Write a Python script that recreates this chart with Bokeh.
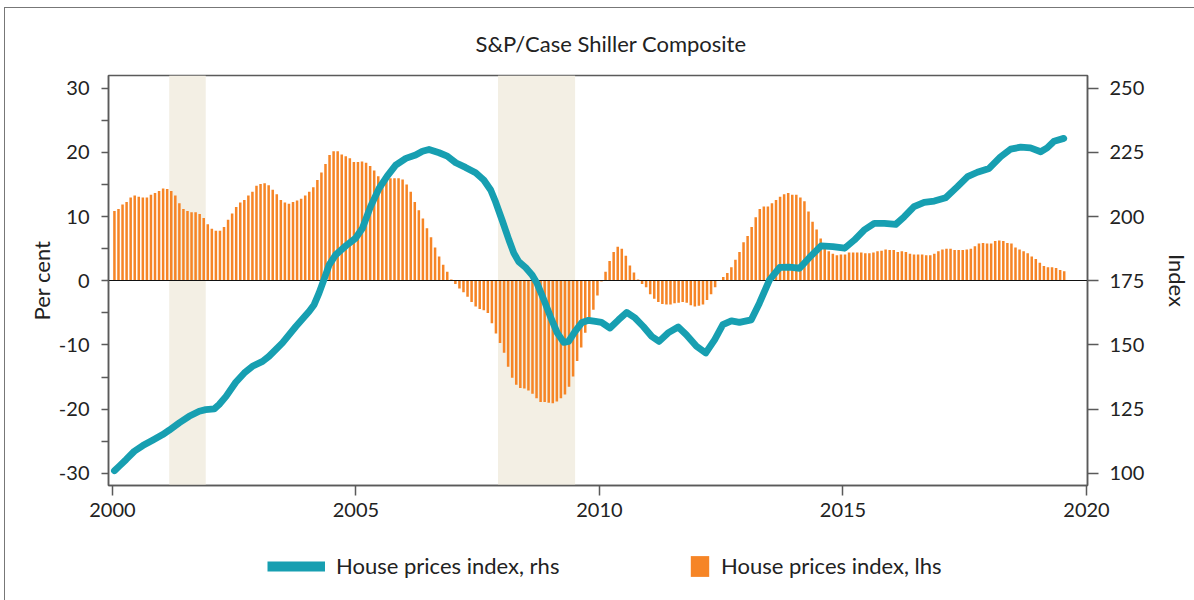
from bokeh.plotting import figure
from bokeh.layouts import column
from bokeh.models import (Range1d, LinearAxis, FixedTicker, BoxAnnotation,
                          Legend, LegendItem)
from bokeh.embed import file_html
from bokeh.resources import INLINE

FONT = "Lato"
TEAL = "#179FB1"
ORANGE = "#F68526"
SHADE = "#F3EFE4"
TXT = "#222222"
AXC = "#5A5A5A"

title_text = "S&P/Case Shiller Composite"
left_label = "Per cent"
right_label = "Index"
line_name = "House prices index, rhs"
bar_name = "House prices index, lhs"

start_year = 2000
# Year-on-year change, per cent (monthly, Jan 2000 - Jul 2019)
yoy_2000 = [10.9, 11.2, 11.9, 12.3, 13.0, 13.3, 13.1, 13.0, 13.0, 13.4, 13.7, 14.0]
yoy_2001 = [14.4, 14.3, 14.0, 13.3, 12.1, 11.2, 10.9, 10.7, 10.7, 10.4, 9.8, 8.8]
yoy_2002 = [8.1, 7.8, 7.8, 8.4, 9.5, 10.5, 11.5, 12.2, 12.6, 13.3, 13.9, 14.8]
yoy_2003 = [15.1, 15.2, 14.9, 14.2, 13.5, 12.6, 12.2, 12.0, 12.3, 12.5, 12.8, 13.3]
yoy_2004 = [13.9, 14.6, 15.7, 16.9, 18.2, 19.6, 20.2, 20.2, 19.7, 19.4, 19.1, 18.5]
yoy_2005 = [18.5, 18.6, 18.4, 17.9, 17.2, 16.3, 15.7, 16.0, 16.0, 16.0, 16.0, 15.8]
yoy_2006 = [15.0, 13.9, 12.3, 11.0, 9.7, 8.2, 6.8, 5.2, 3.8, 2.5, 1.4, 0.2]
yoy_2007 = [-0.5, -1.2, -1.8, -2.5, -3.3, -4.0, -4.4, -4.6, -5.0, -6.6, -8.2, -9.7]
yoy_2008 = [-11.2, -13.4, -15.1, -16.2, -16.7, -16.8, -17.1, -17.6, -18.3, -18.9, -18.9, -19.0]
yoy_2009 = [-19.1, -18.8, -18.3, -17.7, -16.5, -14.9, -12.5, -10.4, -8.1, -5.9, -4.5, -2.3]
yoy_2010 = [-0.1, 1.4, 3.1, 4.5, 5.3, 5.0, 3.9, 2.4, 1.3, 0.2, -0.5, -1.0]
yoy_2011 = [-2.1, -2.8, -3.3, -3.6, -3.7, -3.7, -3.5, -3.4, -3.3, -3.4, -3.8, -4.0]
yoy_2012 = [-3.9, -3.7, -3.0, -2.1, -1.0, 0.0, 0.6, 1.2, 2.1, 3.3, 4.5, 6.0]
yoy_2013 = [7.0, 8.4, 9.9, 11.2, 11.6, 11.6, 12.1, 12.6, 13.1, 13.5, 13.7, 13.4]
yoy_2014 = [13.4, 13.0, 12.4, 10.8, 9.2, 8.0, 6.6, 5.0, 4.6, 4.2, 4.0, 4.1]
yoy_2015 = [4.1, 4.4, 4.4, 4.4, 4.4, 4.3, 4.3, 4.4, 4.6, 4.7, 4.9, 4.8]
yoy_2016 = [4.8, 4.5, 4.6, 4.5, 4.2, 4.1, 4.1, 4.1, 4.0, 4.0, 4.2, 4.6]
yoy_2017 = [4.9, 5.0, 5.0, 4.8, 4.8, 4.8, 4.9, 5.0, 5.4, 5.8, 5.9, 5.8]
yoy_2018 = [5.8, 6.2, 6.3, 6.2, 5.9, 5.8, 5.2, 4.9, 4.6, 4.3, 3.8, 3.4]
yoy_2019 = [2.8, 2.3, 2.1, 2.1, 2.0, 1.7, 1.5]

# Index level (rhs): months since Jan 2000, value
index_month = [0, 1.2, 2.9, 4.9, 7, 9.4, 11.9, 13.5, 16, 18.4, 20.9, 22.5, 24.6,
               25.8, 27.5, 29.9, 32, 34, 36.5, 38.1, 41.4, 44.7, 48, 49.2, 50.4,
               51.6, 52.9, 54.5, 57, 59.4, 61.1, 63.1, 65.2, 67.2, 69.3, 71.8,
               74.2, 75.9, 77.5, 80, 82, 84.1, 86.5, 89, 91, 92.7, 93.9, 95.5,
               97.2, 98.4, 99.6, 101.3, 102.9, 104.1, 105.8, 107.4, 109.1, 110.7,
               111.9, 113.5, 115.2, 116.8, 118.5, 120, 122.1, 124.2, 126.2, 128.3,
               130.3, 132.4, 134.2, 136.4, 138.9, 140.9, 143.4, 145.7, 147.9,
               149.9, 152, 154, 156.9, 158.9, 161.4, 163.9, 166.3, 168.8, 171.3,
               174.1, 177, 179.9, 182.3, 184.7, 187.2, 189.7, 192.5, 194.6, 197,
               199.5, 202, 204.8, 207.7, 210.2, 212.6, 215.5, 218.3, 220.8, 223.3,
               225.7, 228.2, 229.8, 231.5, 233.9]
index_value = [101.0, 102.8, 105.4, 108.6, 110.8, 112.9, 115.1, 116.8, 119.7,
               122.2, 124.2, 124.8, 125.1, 126.8, 130.0, 135.5, 139.1, 141.7,
               143.6, 145.6, 150.8, 157.2, 163.1, 165.7, 170.2, 175.4, 181.2,
               185.1, 188.6, 191.6, 195.5, 203.9, 211.0, 215.8, 220.1, 222.7,
               224.0, 225.5, 226.2, 224.9, 223.6, 221.0, 219.2, 217.1, 214.3,
               210.4, 205.8, 198.7, 190.9, 185.8, 182.5, 180.2, 177.3, 174.1,
               167.6, 161.1, 154.7, 151.0, 151.4, 155.3, 158.8, 159.6, 159.2,
               158.8, 156.6, 159.8, 162.7, 160.5, 157.2, 153.3, 151.4, 154.7,
               157.0, 154.0, 149.5, 146.9, 152.1, 157.9, 159.4, 158.8, 159.8,
               166.3, 175.4, 180.2, 180.3, 179.9, 184.2, 188.6, 188.3, 187.7,
               190.9, 194.8, 197.4, 197.4, 197.0, 200.0, 203.9, 205.6, 206.1,
               207.4, 211.7, 215.6, 217.3, 218.8, 223.3, 226.3, 227.1, 226.8,
               225.3, 226.8, 229.4, 230.5]

# US recessions (decimal years)
recession_start = [2001 + 2 / 12, 2007 + 11 / 12]
recession_end = [2001 + 11 / 12, 2009 + 6 / 12]

x_ticks = [2000, 2005, 2010, 2015, 2020]
left_ticks = [-30, -20, -10, 0, 10, 20, 30]
left_minor = [-25, -15, -5, 5, 15, 25]
right_ticks = [100, 125, 150, 175, 200, 225, 250]

yoy = (yoy_2000 + yoy_2001 + yoy_2002 + yoy_2003 + yoy_2004 + yoy_2005 +
       yoy_2006 + yoy_2007 + yoy_2008 + yoy_2009 + yoy_2010 + yoy_2011 +
       yoy_2012 + yoy_2013 + yoy_2014 + yoy_2015 + yoy_2016 + yoy_2017 +
       yoy_2018 + yoy_2019)
bar_x = [start_year + (m + 0.5) / 12 for m in range(len(yoy))]
line_x = [start_year + (m + 0.5) / 12 for m in index_month]

W = 1189
p = figure(width=W, height=537, output_backend="svg", toolbar_location=None,
           x_range=Range1d(1999.92, 2020.02), y_range=Range1d(-31.9, 32.0),
           min_border_left=103, min_border_right=105, min_border_top=67,
           min_border_bottom=60, title=title_text)
p.extra_y_ranges = {"idx": Range1d(175 + 2.5 * -31.9, 175 + 2.5 * 32.0)}

p.background_fill_color = "white"
p.border_fill_color = "white"
p.outline_line_color = AXC
p.outline_line_width = 1.5
p.xgrid.visible = False
p.ygrid.visible = False

p.title.text_font = FONT
p.title.text_font_size = "22px"
p.title.text_font_style = "normal"
p.title.text_color = TXT
p.title.align = "left"
p.title.offset = 367
p.title.standoff = 38

for s, e in zip(recession_start, recession_end):
    p.add_layout(BoxAnnotation(left=s, right=e, fill_color=SHADE, fill_alpha=1,
                               line_color=None, level="underlay"))

p.vbar(x=bar_x, top=yoy, bottom=0, width=0.62 / 12,
       fill_color=ORANGE, line_color=None)
p.hspan(y=[0], line_color="#111111", line_width=1.2)
p.line(x=line_x, y=index_value, y_range_name="idx", line_width=6.8,
       line_color=TEAL, line_join="round", line_cap="round")

# axes
xa = p.xaxis[0]
xa.ticker = FixedTicker(ticks=x_ticks)
ya = p.yaxis[0]
ya.ticker = FixedTicker(ticks=left_ticks, minor_ticks=left_minor)
ya.major_label_overrides = {t: str(t) for t in left_ticks}
ya.axis_label = left_label
ra = LinearAxis(y_range_name="idx", ticker=FixedTicker(ticks=right_ticks),
                axis_label=right_label)
p.add_layout(ra, "right")

for ax in (xa, ya, ra):
    ax.axis_line_color = AXC
    ax.axis_line_width = 1.5
    ax.major_tick_line_color = AXC
    ax.major_tick_line_width = 1.5
    ax.minor_tick_line_color = None
    ax.major_tick_in = 0
    ax.major_label_text_font = FONT
    ax.major_label_text_font_size = "20px"
    ax.major_label_text_color = TXT
    ax.axis_label_text_font = FONT
    ax.axis_label_text_font_size = "22px"
    ax.axis_label_text_font_style = "normal"
    ax.axis_label_text_color = TXT

xa.major_tick_out = 10
xa.major_label_standoff = 7
ya.major_tick_out = 7
ya.minor_tick_line_color = AXC
ya.minor_tick_line_width = 1.5
ya.minor_tick_in = 0
ya.minor_tick_out = 7
ya.major_label_standoff = 12
ya.axis_label_standoff = 1
ra.major_tick_out = 11
ra.major_label_standoff = 11
ra.axis_label_standoff = 17

# legend strip under the chart (its frame is aligned with the chart's frame)
lf = figure(width=W, height=55, output_backend="svg", toolbar_location=None,
            x_range=Range1d(0, 1), y_range=Range1d(0, 1),
            x_axis_type=None, y_axis_type=None,
            min_border_left=0, min_border_right=0, min_border_top=0,
            min_border_bottom=0)
lf.outline_line_color = None
lf.background_fill_color = "white"
lf.border_fill_color = "white"
nan = float("nan")
key_line = lf.line(x=[nan], y=[nan], line_width=10, line_color=TEAL)
key_bar = lf.vbar(x=[nan], top=[nan], width=0.1, fill_color=ORANGE,
                  line_color=None)

leg_common = dict(orientation="horizontal", padding=0, margin=0,
                  border_line_color=None, background_fill_alpha=0,
                  label_text_font=FONT, label_text_font_size="22px",
                  label_text_color=TXT)
leg1 = Legend(items=[LegendItem(label=line_name, renderers=[key_line])],
              location=(159, 21), glyph_width=58, glyph_height=26,
              label_standoff=11, **leg_common)
leg2 = Legend(items=[LegendItem(label=bar_name, renderers=[key_bar])],
              location=(580, 21), glyph_width=23, glyph_height=26,
              label_standoff=10, **leg_common)
lf.add_layout(leg1)
lf.add_layout(leg2)

layout = column(p, lf, spacing=0)
layout.styles = {"margin-left": "4px", "margin-top": "7px",
                 "border-top": "1px solid #777777",
                 "border-left": "1px solid #777777"}

open("out.html", "w").write(file_html(layout, INLINE))
